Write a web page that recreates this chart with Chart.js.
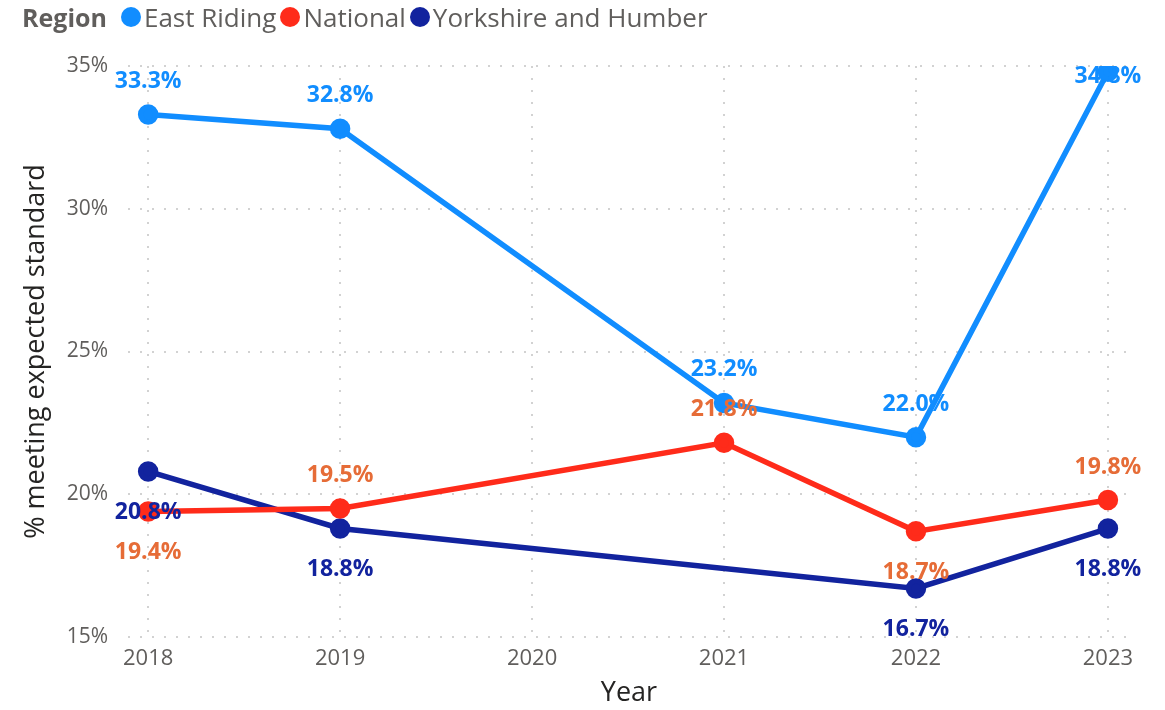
<!DOCTYPE html>
<html>
<head>
<meta charset="utf-8">
<script src="https://cdn.jsdelivr.net/npm/chart.js@4.4.1/dist/chart.umd.min.js"></script>
<style>
  html, body { margin: 0; padding: 0; background: #fff; }
  body { width: 1165px; height: 710px; position: relative; overflow: hidden; font-family: "Open Sans", sans-serif; }
  #wrap { position: absolute; left: 0; top: 0; width: 1165px; height: 710px; }
  #legend { position: absolute; left: 22px; top: -1px; display: flex; align-items: center; font-size: 26px; color: #605e5c; z-index: 2; }
  #legend .ttl { font-weight: 700; margin-right: 14px; font-size: 25px; }
  #legend .item { display: flex; align-items: center; margin-right: 4px; }
  #legend .dot { width: 20px; height: 20px; border-radius: 50%; margin-right: 3px; }
</style>
</head>
<body>
<div id="legend"><span class="ttl">Region</span></div>
<div id="wrap"><canvas id="myLineChart" width="1165" height="710"></canvas></div>
<script>
  // dados
  let years = [2018, 2019, 2021, 2022, 2023];
  let tickYears = [2018, 2019, 2020, 2021, 2022, 2023];
  let seriesNames = ["East Riding", "National", "Yorkshire and Humber"];
  let eastRiding = [33.3, 32.8, 23.2, 22.0, 34.8];
  let national = [19.4, 19.5, 21.8, 18.7, 19.8];
  let yorkshire = [20.8, 18.8, null, 16.7, 18.8];
  let yTicks = [15, 20, 25, 30, 35];

  // cores e posição dos rótulos
  let lineColors = ["#118DFF", "#FF2B1A", "#12239E"];
  let labelColors = ["#118DFF", "#E66C37", "#12239E"];
  let labelPos = [
    ["above", "above", "above", "above", "above"],
    ["below", "above", "above", "below", "above"],
    ["below", "below", "below", "below", "below"],
  ];

  // legenda em html
  let legend = document.getElementById("legend");
  seriesNames.forEach((name, i) => {
    let item = document.createElement("span");
    item.className = "item";
    item.innerHTML = '<span class="dot" style="background:' + lineColors[i] + '"></span>' + name;
    legend.appendChild(item);
  });

  let allSeries = [eastRiding, national, yorkshire];
  let datasets = allSeries.map((vals, i) => ({
    label: seriesNames[i],
    data: years.map((yr, k) => ({ x: yr, y: vals[k] })),
    borderColor: lineColors[i],
    backgroundColor: lineColors[i],
    borderWidth: 5.5,
    pointRadius: 7.5,
    pointHoverRadius: 7.5,
    tension: 0,
    spanGaps: true,
  }));

  // plugin simples para os rótulos de dados
  let dataLabels = {
    id: "dataLabels",
    afterDatasetsDraw(chart) {
      let ctx = chart.ctx;
      let area = chart.chartArea;
      ctx.save();
      ctx.font = "bold 23px 'Open Sans'";
      ctx.textAlign = "center";
      ctx.textBaseline = "middle";
      chart.data.datasets.forEach((ds, i) => {
        let meta = chart.getDatasetMeta(i);
        meta.data.forEach((pt, k) => {
          let v = allSeries[i][k];
          if (v === null) return;
          let y = labelPos[i][k] === "above" ? pt.y - 33 : pt.y + 41;
          if (y < area.top + 10) y = area.top + 10;
          ctx.fillStyle = labelColors[i];
          ctx.fillText(v.toFixed(1) + "%", pt.x, y);
        });
      });
      ctx.restore();
    },
  };

  let gridStyle = { color: "#d2d2d2", lineWidth: 2, drawTicks: false };

  let ctx = document.getElementById("myLineChart").getContext("2d");
  let myLineChart = new Chart(ctx, {
    type: "line",
    data: { datasets: datasets },
    plugins: [dataLabels],
    options: {
      responsive: false,
      animation: false,
      layout: { padding: { top: 66, right: 35, bottom: 0, left: 0 } },
      plugins: { legend: { display: false }, tooltip: { enabled: false } },
      scales: {
        x: {
          type: "linear",
          min: 2017.895,
          max: 2023.115,
          afterBuildTicks: (s) => { s.ticks = tickYears.map((v) => ({ value: v })); },
          afterFit: (s) => { s.height = 73; },
          border: { display: false, dash: [2, 10] },
          grid: gridStyle,
          ticks: {
            color: "#605e5c",
            font: { family: "Open Sans", size: 22 },
            padding: 9,
            maxRotation: 0,
            callback: (v) => String(v),
          },
          title: {
            display: true,
            text: "Year",
            color: "#252423",
            font: { family: "Open Sans", size: 27 },
            padding: { top: 0, bottom: 0 },
          },
        },
        y: {
          min: 15,
          max: 35,
          afterBuildTicks: (s) => { s.ticks = yTicks.map((v) => ({ value: v })); },
          afterFit: (s) => { s.width = 128; },
          border: { display: false, dash: [2, 10] },
          grid: gridStyle,
          ticks: {
            color: "#605e5c",
            font: { family: "Open Sans", size: 21 },
            padding: 20,
            callback: (v) => v + "%",
          },
          title: {
            display: true,
            text: "% meeting expected standard",
            color: "#252423",
            font: { family: "Open Sans", size: 27 },
            padding: { top: 20, bottom: 0 },
          },
        },
      },
    },
  });
</script>
</body>
</html>
